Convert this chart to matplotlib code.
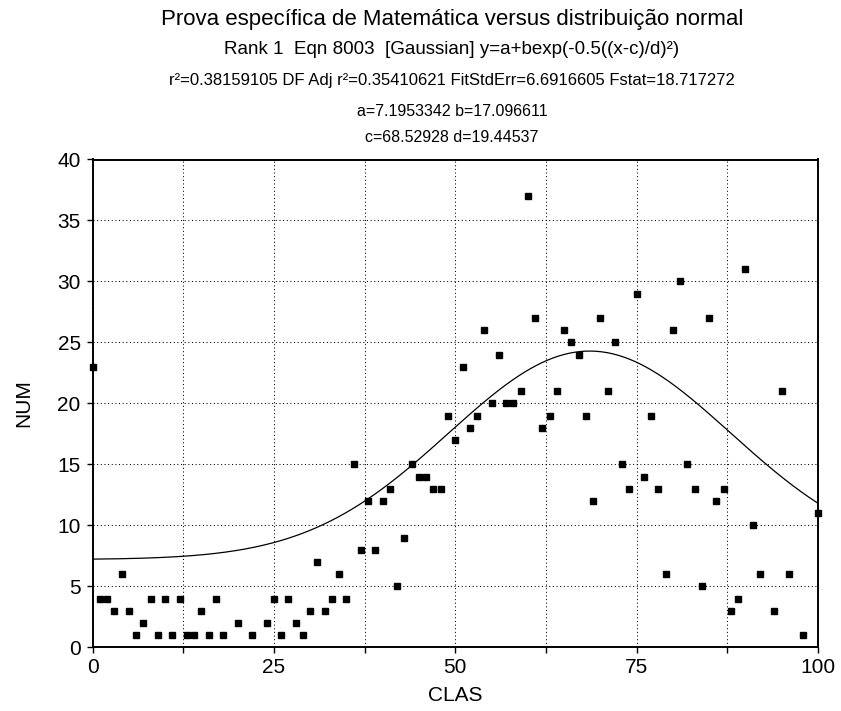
import matplotlib
matplotlib.use("Agg")
import matplotlib.pyplot as plt
import numpy as np
from matplotlib.ticker import MultipleLocator

plt.rcParams["font.family"] = ["Liberation Sans", "DejaVu Sans"]

# data (CLAS, NUM)
CLAS = [0, 1, 2, 3, 4, 5, 6, 7, 8, 9, 10, 11, 12, 13, 14, 15, 16, 17, 18,
        20, 22, 24, 25, 26, 27, 28, 29, 30, 31, 32, 33, 34, 35, 36, 37, 38,
        39, 40, 41, 42, 43, 44, 45, 46, 47, 48, 49, 50, 51, 52, 53, 54, 55,
        56, 57, 58, 59, 60, 61, 62, 63, 64, 65, 66, 67, 68, 69, 70, 71, 72,
        73, 74, 75, 76, 77, 78, 79, 80, 81, 82, 83, 84, 85, 86, 87, 88, 89,
        90, 91, 92, 94, 95, 96, 98, 100]
NUM = [23, 4, 4, 3, 6, 3, 1, 2, 4, 1, 4, 1, 4, 1, 1, 3, 1, 4, 1,
       2, 1, 2, 4, 1, 4, 2, 1, 3, 7, 3, 4, 6, 4, 15, 8, 12,
       8, 12, 13, 5, 9, 15, 14, 14, 13, 13, 19, 17, 23, 18, 19, 26, 20,
       24, 20, 20, 21, 37, 27, 18, 19, 21, 26, 25, 24, 19, 12, 27, 21, 25,
       15, 13, 29, 14, 19, 13, 6, 26, 30, 15, 13, 5, 27, 12, 13, 3, 4,
       31, 10, 6, 3, 21, 6, 1, 11]

# fitted gaussian parameters printed in the header
A_FIT = 7.1953342
B_FIT = 17.096611
C_FIT = 68.52928
D_FIT = 19.44537

HEADER = [
    ("Prova específica de Matemática versus distribuição normal", 16, 20),
    ("Rank 1  Eqn 8003  [Gaussian] y=a+bexp(-0.5((x-c)/d)²)", 13.5, 50),
    ("r²=0.38159105 DF Adj r²=0.35410621 FitStdErr=6.6916605 Fstat=18.717272", 12, 81),
    ("a=7.1953342 b=17.096611", 11.5, 111),
    ("c=68.52928 d=19.44537", 11.5, 137),
]

W, H = 841, 711
fig = plt.figure(figsize=(W / 100, H / 100), dpi=100)
ax = fig.add_axes([92.5 / W, 1 - 647.3 / H, (818 - 92.5) / W, (647.3 - 159.5) / H])

xs = np.linspace(0, 100, 400)
fit = A_FIT + B_FIT * np.exp(-0.5 * ((xs - C_FIT) / D_FIT) ** 2)
ax.plot(xs, fit, color="black", lw=0.9, zorder=3)
ax.plot(CLAS, NUM, ls="none", marker="s", ms=3.7, color="black",
        clip_on=False, zorder=4)

ax.set_xlim(0, 100)
ax.set_ylim(0, 40)
ax.xaxis.set_major_locator(MultipleLocator(25))
ax.xaxis.set_minor_locator(MultipleLocator(12.5))
ax.yaxis.set_major_locator(MultipleLocator(5))
ax.grid(which="both", color="black", lw=0.75, ls=(0, (1, 2.5)))
ax.tick_params(which="both", direction="out", length=4.5, width=1.0,
               labelsize=15, colors="black")
ax.tick_params(axis="x", pad=3)
ax.tick_params(axis="y", pad=4)
for s in ax.spines.values():
    s.set_linewidth(1.4)

ax.set_xlabel("CLAS", fontsize=15, labelpad=7)
ax.set_ylabel("NUM", fontsize=15, labelpad=17)

for text, size, ypx in HEADER:
    fig.text(452 / W, 1 - ypx / H, text, fontsize=size, ha="center", va="center")

fig.savefig("out.png", dpi=100)
